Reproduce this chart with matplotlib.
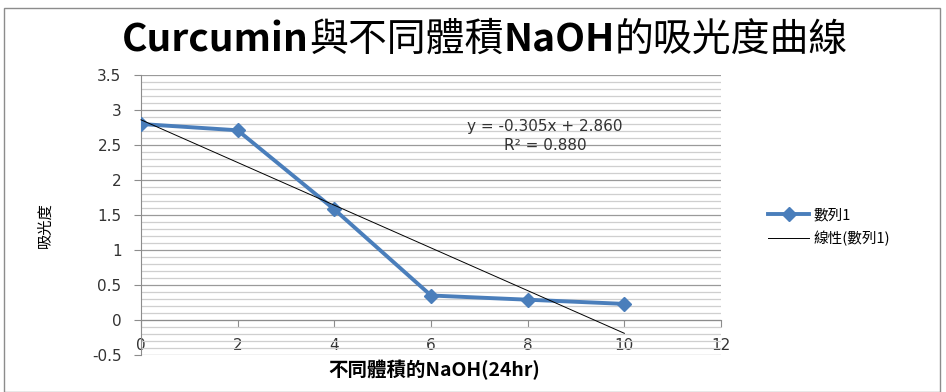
import matplotlib
matplotlib.use("Agg")
import matplotlib.pyplot as plt
from matplotlib.patches import Rectangle
from matplotlib.ticker import MultipleLocator

plt.rcParams['font.family'] = ['Noto Sans CJK TC', 'DejaVu Sans']

# NaOH volume vs absorbance
naoh_vol = [0, 2, 4, 6, 8, 10]
absorbance = [2.80, 2.71, 1.58, 0.35, 0.29, 0.23]
slope = -0.305
intercept = 2.860
r2 = 0.880

series_name = '數列1'
trend_name = '線性(數列1)'
title_parts = [('Curcumin', 'bold'), ('與不同體積', 'normal'), ('NaOH', 'bold'), ('的吸光度曲線', 'normal')]
xlabel = '不同體積的NaOH(24hr)'
ylabel = '吸光度'

fig = plt.figure(figsize=(9.46, 3.92), dpi=100)
ax = fig.add_axes([141 / 946, 1 - 355 / 392, 580 / 946, 280 / 392])

# chart area border
fig.patches.append(Rectangle((4 / 946, 0), 936 / 946, 1 - 8 / 392, transform=fig.transFigure,
                             fill=False, edgecolor='#8c8c8c', linewidth=1))

ax.set_xlim(0, 12)
ax.set_ylim(-0.5, 3.5)
ax.xaxis.set_major_locator(MultipleLocator(2))
ax.yaxis.set_major_locator(MultipleLocator(0.5))
ax.yaxis.set_minor_locator(MultipleLocator(0.1))
ax.grid(axis='y', which='major', color='#9a9a9a', linewidth=0.9)
ax.grid(axis='y', which='minor', color='#cfcfcf', linewidth=0.9)
ax.set_axisbelow(True)

for s in ['top', 'right']:
    ax.spines[s].set_visible(False)
ax.spines['bottom'].set_position(('data', 0))
ax.spines['bottom'].set_color('#8c8c8c')
ax.spines['left'].set_color('#8c8c8c')

ax.tick_params(axis='x', direction='out', length=5, color='#8c8c8c', pad=8, labelsize=11, labelcolor='#333333')
ax.tick_params(axis='y', direction='out', length=5, color='#8c8c8c', pad=9, labelsize=11, labelcolor='#333333')
ax.tick_params(which='minor', length=0)
ax.set_xticklabels([f'{int(v)}' for v in ax.get_xticks()], family='DejaVu Sans')
ax.set_yticklabels([f'{v:g}' for v in ax.get_yticks()], family='DejaVu Sans')

ax.plot(naoh_vol, absorbance, color='#4a7ebb', linewidth=2.8, marker='D', markersize=7.5,
        label=series_name, zorder=3)
tx = [naoh_vol[0], naoh_vol[-1]]
ax.plot(tx, [slope * x + intercept for x in tx], color='black', linewidth=0.7,
        label=trend_name, zorder=4, clip_on=False)

ax.text(8.36, 2.76, f'y = {slope:.3f}x + {intercept:.3f}', ha='center', va='center', fontsize=11,
        family='DejaVu Sans', color='#333333')
ax.text(8.36, 2.49, f'R² = {r2:.3f}', ha='center', va='center', fontsize=11,
        family='DejaVu Sans', color='#333333')

fig.text(434 / 946, 1 - 370 / 392, xlabel, ha='center', va='center', fontsize=14, weight='bold')
fig.text(45 / 946, 1 - 225 / 392, ylabel, ha='center', va='center', fontsize=11, rotation=90)

leg = fig.legend(loc='center left', bbox_to_anchor=(755 / 946, 1 - 227 / 392), frameon=False,
                 fontsize=10.5, handlelength=2.8, handletextpad=0.3, labelspacing=0.55)

# title made of bold latin parts and regular CJK parts
fig.canvas.draw()
renderer = fig.canvas.get_renderer()
pieces = []
for txt, w in title_parts:
    t = fig.text(0, 1 - 40 / 392, txt, fontsize=28, weight=w, va='center', ha='left')
    pieces.append(t)
widths = [p.get_window_extent(renderer).width for p in pieces]
x0 = 485 - sum(widths) / 2
for p, wd in zip(pieces, widths):
    p.set_x(x0 / 946)
    x0 += wd

fig.savefig('out.png', dpi=100)
